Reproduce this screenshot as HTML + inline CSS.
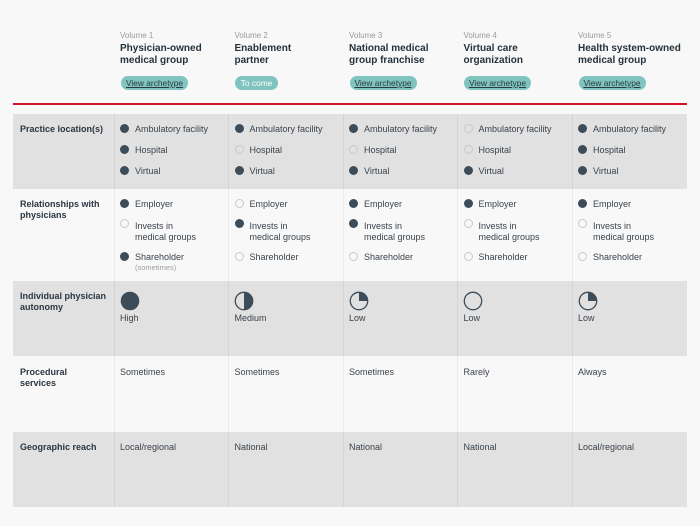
<!DOCTYPE html>
<html><head><meta charset="utf-8"><style>
*{margin:0;padding:0;box-sizing:border-box}
body{width:700px;height:526px;background:#f8f8f8;font-family:"Liberation Sans",Arial,sans-serif;color:#333c45;position:relative;overflow:hidden}
.a{position:absolute;white-space:nowrap}
.vol{font-size:8px;color:#9a9a9a;line-height:10px}
.tt{font-size:10px;font-weight:bold;color:#26323c;line-height:12px}
.btn{position:absolute;height:14px;border-radius:7px;background:#7fc4bf;font-size:8.4px;line-height:14px;text-align:center;color:#2b3942;text-decoration:underline}
.btn.w{color:#fff;text-decoration:none}
.row{position:absolute;left:13px;width:674px;background:#e1e1e1}
.vl{position:absolute;top:114px;height:393px;width:1px;background:rgba(0,0,0,0.055)}
.lb{font-size:9px;font-weight:bold;color:#2b3640;line-height:11px}
.t{font-size:9px;color:#3a434b;line-height:11px}
.sm{font-size:7.5px;color:#a0a0a0;line-height:9px}
.d{position:absolute;width:9px;height:9px;border-radius:50%;background:#3d4c59}
.e{position:absolute;width:9px;height:9px;border-radius:50%;border:1px solid #c9c9c9}
</style></head><body>

<!-- header -->
<div class="a vol" style="left:120px;top:31px">Volume 1</div>
<div class="a tt" style="left:120px;top:43px">Physician-owned<br>medical group</div>
<div class="btn" style="left:121px;top:76px;width:67px">View archetype</div>

<div class="a vol" style="left:234.5px;top:31px">Volume 2</div>
<div class="a tt" style="left:234.5px;top:43px">Enablement<br>partner</div>
<div class="btn w" style="left:235px;top:76px;width:43px">To come</div>

<div class="a vol" style="left:349px;top:31px">Volume 3</div>
<div class="a tt" style="left:349px;top:43px">National medical<br>group franchise</div>
<div class="btn" style="left:349.5px;top:76px;width:67px">View archetype</div>

<div class="a vol" style="left:463.5px;top:31px">Volume 4</div>
<div class="a tt" style="left:463.5px;top:43px">Virtual care<br>organization</div>
<div class="btn" style="left:464px;top:76px;width:67px">View archetype</div>

<div class="a vol" style="left:578px;top:31px">Volume 5</div>
<div class="a tt" style="left:578px;top:43px">Health system-owned<br>medical group</div>
<div class="btn" style="left:578.5px;top:76px;width:67px">View archetype</div>

<div class="a" style="left:13px;top:103px;width:674px;height:2px;background:#d0152a"></div>

<!-- rows -->
<div class="row" style="top:114px;height:75px"></div>
<div class="row" style="top:281px;height:75px"></div>
<div class="row" style="top:432px;height:75px"></div>

<div class="vl" style="left:114px"></div>
<div class="vl" style="left:228px"></div>
<div class="vl" style="left:343px"></div>
<div class="vl" style="left:457px"></div>
<div class="vl" style="left:571.5px"></div>

<!-- labels -->
<div class="a lb" style="left:20px;top:123.5px">Practice location(s)</div>
<div class="a lb" style="left:20px;top:198.5px">Relationships with<br>physicians</div>
<div class="a lb" style="left:20px;top:290.5px">Individual physician<br>autonomy</div>
<div class="a lb" style="left:20px;top:366.5px">Procedural<br>services</div>
<div class="a lb" style="left:20px;top:441.5px">Geographic reach</div>

<!-- row 1: practice location -->
<div class="d" style="left:120px;top:124px"></div><div class="a t" style="left:135px;top:123.5px">Ambulatory facility</div>
<div class="d" style="left:120px;top:145px"></div><div class="a t" style="left:135px;top:144.5px">Hospital</div>
<div class="d" style="left:120px;top:166px"></div><div class="a t" style="left:135px;top:165.5px">Virtual</div>

<div class="d" style="left:234.5px;top:124px"></div><div class="a t" style="left:249.5px;top:123.5px">Ambulatory facility</div>
<div class="e" style="left:234.5px;top:145px"></div><div class="a t" style="left:249.5px;top:144.5px">Hospital</div>
<div class="d" style="left:234.5px;top:166px"></div><div class="a t" style="left:249.5px;top:165.5px">Virtual</div>

<div class="d" style="left:349px;top:124px"></div><div class="a t" style="left:364px;top:123.5px">Ambulatory facility</div>
<div class="e" style="left:349px;top:145px"></div><div class="a t" style="left:364px;top:144.5px">Hospital</div>
<div class="d" style="left:349px;top:166px"></div><div class="a t" style="left:364px;top:165.5px">Virtual</div>

<div class="e" style="left:463.5px;top:124px"></div><div class="a t" style="left:478.5px;top:123.5px">Ambulatory facility</div>
<div class="e" style="left:463.5px;top:145px"></div><div class="a t" style="left:478.5px;top:144.5px">Hospital</div>
<div class="d" style="left:463.5px;top:166px"></div><div class="a t" style="left:478.5px;top:165.5px">Virtual</div>

<div class="d" style="left:578px;top:124px"></div><div class="a t" style="left:593px;top:123.5px">Ambulatory facility</div>
<div class="d" style="left:578px;top:145px"></div><div class="a t" style="left:593px;top:144.5px">Hospital</div>
<div class="d" style="left:578px;top:166px"></div><div class="a t" style="left:593px;top:165.5px">Virtual</div>

<!-- row 2: relationships -->
<div class="d" style="left:120px;top:199px"></div><div class="a t" style="left:135px;top:198.5px">Employer</div>
<div class="e" style="left:120px;top:219px"></div><div class="a t" style="left:135px;top:220.5px">Invests in<br>medical groups</div>
<div class="d" style="left:120px;top:252px"></div><div class="a t" style="left:135px;top:252px">Shareholder</div>
<div class="a sm" style="left:135px;top:263px">(sometimes)</div>

<div class="e" style="left:234.5px;top:199px"></div><div class="a t" style="left:249.5px;top:198.5px">Employer</div>
<div class="d" style="left:234.5px;top:219px"></div><div class="a t" style="left:249.5px;top:220.5px">Invests in<br>medical groups</div>
<div class="e" style="left:234.5px;top:252px"></div><div class="a t" style="left:249.5px;top:252px">Shareholder</div>

<div class="d" style="left:349px;top:199px"></div><div class="a t" style="left:364px;top:198.5px">Employer</div>
<div class="d" style="left:349px;top:219px"></div><div class="a t" style="left:364px;top:220.5px">Invests in<br>medical groups</div>
<div class="e" style="left:349px;top:252px"></div><div class="a t" style="left:364px;top:252px">Shareholder</div>

<div class="d" style="left:463.5px;top:199px"></div><div class="a t" style="left:478.5px;top:198.5px">Employer</div>
<div class="e" style="left:463.5px;top:219px"></div><div class="a t" style="left:478.5px;top:220.5px">Invests in<br>medical groups</div>
<div class="e" style="left:463.5px;top:252px"></div><div class="a t" style="left:478.5px;top:252px">Shareholder</div>

<div class="d" style="left:578px;top:199px"></div><div class="a t" style="left:593px;top:198.5px">Employer</div>
<div class="e" style="left:578px;top:219px"></div><div class="a t" style="left:593px;top:220.5px">Invests in<br>medical groups</div>
<div class="e" style="left:578px;top:252px"></div><div class="a t" style="left:593px;top:252px">Shareholder</div>

<!-- row 3: autonomy -->
<svg class="a" style="left:119.5px;top:291px" width="20" height="20" viewBox="0 0 20 20"><circle cx="10" cy="10" r="9.3" fill="#3d4c59"/></svg>
<div class="a t" style="left:120px;top:312.5px">High</div>
<svg class="a" style="left:234px;top:291px" width="20" height="20" viewBox="0 0 20 20"><circle cx="10" cy="10" r="8.7" fill="none" stroke="#3d4c59" stroke-width="1.3"/><path d="M10 1.3 A8.7 8.7 0 0 1 10 18.7 Z" fill="#3d4c59"/></svg>
<div class="a t" style="left:234.5px;top:312.5px">Medium</div>
<svg class="a" style="left:348.5px;top:291px" width="20" height="20" viewBox="0 0 20 20"><circle cx="10" cy="10" r="8.7" fill="none" stroke="#3d4c59" stroke-width="1.3"/><path d="M10 10 L10 1.3 A8.7 8.7 0 0 1 18.7 10 Z" fill="#3d4c59"/></svg>
<div class="a t" style="left:349px;top:312.5px">Low</div>
<svg class="a" style="left:463px;top:291px" width="20" height="20" viewBox="0 0 20 20"><circle cx="10" cy="10" r="8.7" fill="none" stroke="#3d4c59" stroke-width="1.3"/></svg>
<div class="a t" style="left:463.5px;top:312.5px">Low</div>
<svg class="a" style="left:577.5px;top:291px" width="20" height="20" viewBox="0 0 20 20"><circle cx="10" cy="10" r="8.7" fill="none" stroke="#3d4c59" stroke-width="1.3"/><path d="M10 10 L10 1.3 A8.7 8.7 0 0 1 18.7 10 Z" fill="#3d4c59"/></svg>
<div class="a t" style="left:578px;top:312.5px">Low</div>

<!-- row 4: procedural -->
<div class="a t" style="left:120px;top:366.5px">Sometimes</div>
<div class="a t" style="left:234.5px;top:366.5px">Sometimes</div>
<div class="a t" style="left:349px;top:366.5px">Sometimes</div>
<div class="a t" style="left:463.5px;top:366.5px">Rarely</div>
<div class="a t" style="left:578px;top:366.5px">Always</div>

<!-- row 5: geographic -->
<div class="a t" style="left:120px;top:441.5px">Local/regional</div>
<div class="a t" style="left:234.5px;top:441.5px">National</div>
<div class="a t" style="left:349px;top:441.5px">National</div>
<div class="a t" style="left:463.5px;top:441.5px">National</div>
<div class="a t" style="left:578px;top:441.5px">Local/regional</div>

</body></html>
